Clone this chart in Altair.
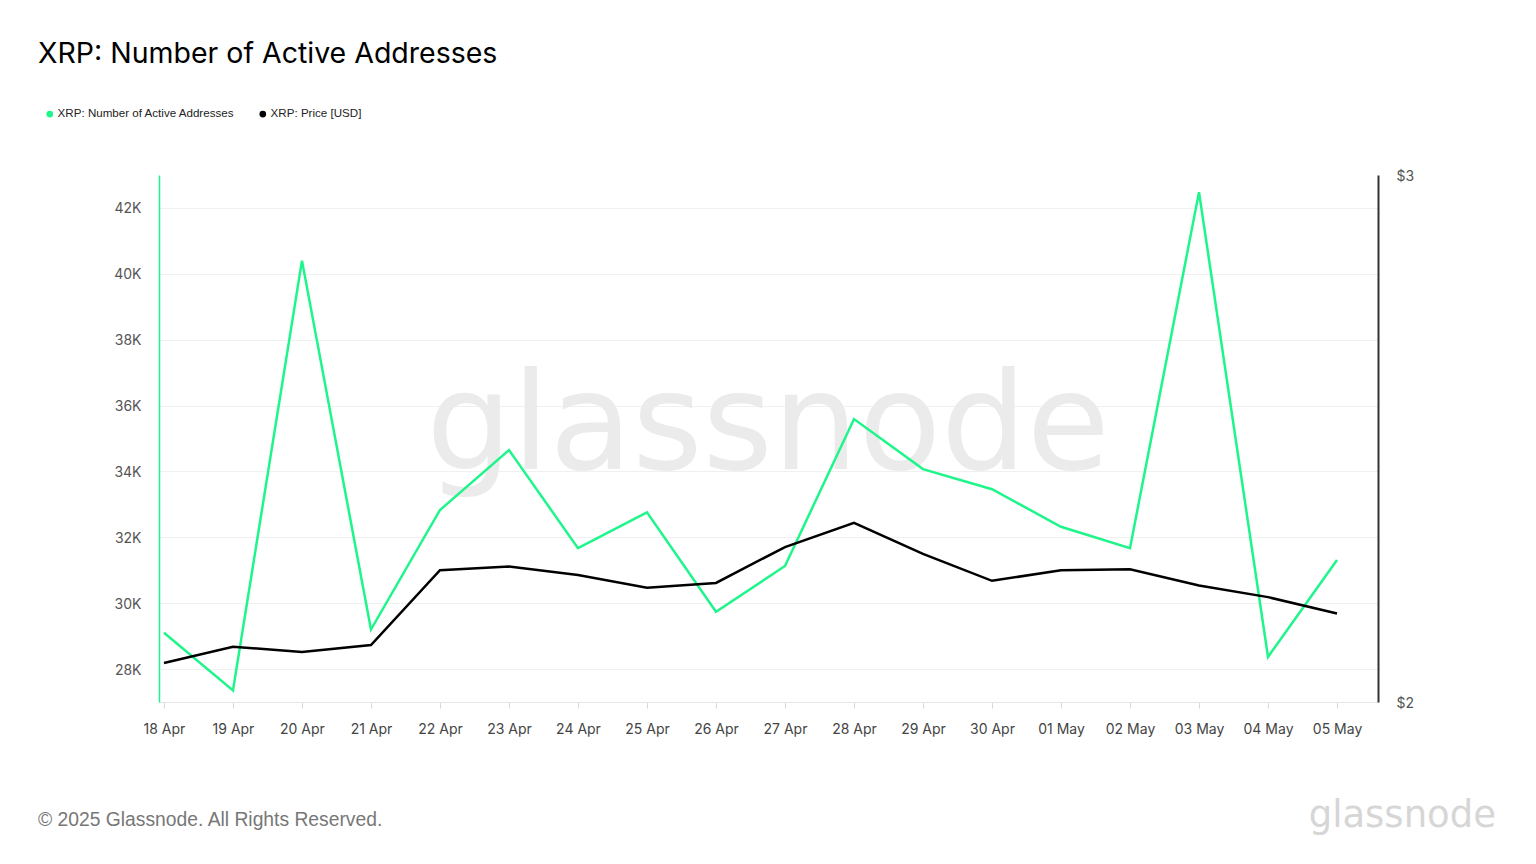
import altair as alt
import pandas as pd

# ---- data ----
dates = ["18 Apr", "19 Apr", "20 Apr", "21 Apr", "22 Apr", "23 Apr", "24 Apr", "25 Apr",
         "26 Apr", "27 Apr", "28 Apr", "29 Apr", "30 Apr", "01 May", "02 May", "03 May",
         "04 May", "05 May"]
active = [29100, 27350, 40400, 29200, 32830, 34650, 31670, 32760, 29740, 31130,
          35590, 34070, 33460, 32320, 31670, 42480, 28370, 31310]
price = [2.074, 2.105, 2.095, 2.108, 2.250, 2.257, 2.241, 2.217, 2.226, 2.294,
         2.340, 2.281, 2.230, 2.250, 2.252, 2.221, 2.199, 2.168]
series_names = ["XRP: Number of Active Addresses", "XRP: Price [USD]"]
series_colors = ["#1ef58a", "#000000"]
left_ticks = [28000, 30000, 32000, 34000, 36000, 38000, 40000, 42000]
right_ticks = [2, 3]
title_text = "XRP: Number of Active Addresses"
footer_text = "© 2025 Glassnode. All Rights Reserved."
brand_text = "glassnode"

df = pd.DataFrame({"i": list(range(len(dates))), "date": dates,
                   "active": active, "price": price})

label_expr = "[" + ",".join("'%s'" % d for d in dates) + "][datum.value]"

x_enc = alt.X(
    "i:Q",
    scale=alt.Scale(domain=[-0.072, 17.594], nice=False, zero=False),
    axis=alt.Axis(values=list(range(len(dates))), labelExpr=label_expr, title=None,
                  grid=False, domainColor="#e6e6e6", tickColor="#d8d8d8", tickSize=6,
                  labelFontSize=14, labelColor="#444444", labelFont="Inter",
                  labelPadding=14, labelOverlap=False, labelFlush=False),
)

base = alt.Chart(df)

green = base.mark_line(color=series_colors[0], strokeWidth=2.5).encode(
    x=x_enc,
    y=alt.Y("active:Q",
            scale=alt.Scale(domain=[27000, 43000], nice=False, zero=False),
            axis=alt.Axis(orient="left", values=left_ticks,
                          labelExpr="(datum.value/1000) + 'K'", title=None,
                          grid=True, gridColor="#f0f0f0", ticks=False,
                          domainColor=series_colors[0], domainWidth=1.5,
                          labelFontSize=14, labelColor="#555555", labelFont="Inter",
                          labelPadding=18, labelOffset=1)),
)

black = base.mark_line(color=series_colors[1], strokeWidth=2.5).encode(
    x=x_enc,
    y=alt.Y("price:Q",
            scale=alt.Scale(domain=[2, 3], nice=False, zero=False),
            axis=alt.Axis(orient="right", values=right_ticks,
                          labelExpr="'$' + datum.value", title=None,
                          grid=False, ticks=False, domainColor="#333333",
                          domainWidth=2, labelFontSize=14, labelColor="#555555",
                          labelFont="Inter", labelPadding=18, labelOffset=1)),
)

legend_df = pd.DataFrame({"series": series_names})
legend_layer = alt.Chart(legend_df).mark_point(filled=True, size=0).encode(
    color=alt.Color("series:N",
                    scale=alt.Scale(domain=series_names, range=series_colors),
                    legend=alt.Legend(orient="none", legendX=-115, legendY=-67,
                                      direction="horizontal", title=None,
                                      symbolType="circle", symbolSize=45,
                                      symbolOpacity=1, labelFontSize=11.6,
                                      labelFont="Liberation Sans", labelColor="#222222",
                                      labelOffset=2, labelLimit=0, columnPadding=22)),
)

wm = alt.Chart(pd.DataFrame({"t": [brand_text]})).mark_text(
    fontSize=135, color="#ebebeb", font="DejaVu Sans", align="center",
    baseline="alphabetic").encode(text="t:N", x=alt.value(609), y=alt.value(294))

footer = alt.Chart(pd.DataFrame({"t": [footer_text]})).mark_text(
    fontSize=19.3, color="#777777", font="Liberation Sans", align="left",
    baseline="alphabetic").encode(text="t:N", x=alt.value(-121), y=alt.value(651))

logo = alt.Chart(pd.DataFrame({"t": [brand_text]})).mark_text(
    fontSize=37, color="#d6d6d6", font="DejaVu Sans", align="right",
    baseline="alphabetic").encode(text="t:N", x=alt.value(1337), y=alt.value(652))

chart = alt.layer(wm, green, black, legend_layer, footer, logo).resolve_scale(
    y="independent"
).properties(
    width=1219, height=527,
    title=alt.TitleParams(title_text, anchor="start", frame="group", dx=-121,
                          fontSize=28.5, font="Inter", fontWeight="normal",
                          color="#000000", offset=40),
    autosize=alt.AutoSizeParams(type="none"),
    padding={"left": 151, "top": 167, "right": 150, "bottom": 154},
).configure_view(strokeWidth=0)

chart.save("out.html", embed_options={"renderer": "svg", "actions": False})
